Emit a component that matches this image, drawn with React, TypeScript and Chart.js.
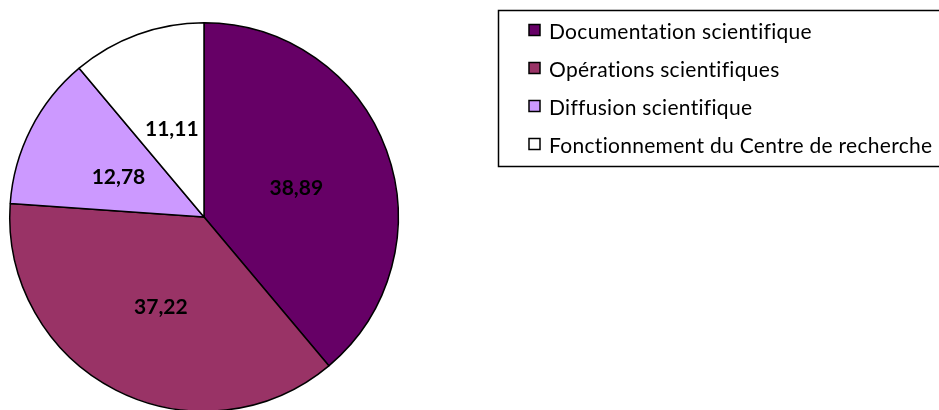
import React, { useEffect, useRef } from "react";
import { Chart, registerables } from "chart.js";

Chart.register(...registerables);

const categories = [
  "Documentation scientifique",
  "Opérations scientifiques",
  "Diffusion scientifique",
  "Fonctionnement du Centre de recherche",
];
const values = [38.89, 37.22, 12.78, 11.11];
const colors = ["#660066", "#993366", "#CC99FF", "#FFFFFF"];

const formatValue = (v: number) => v.toFixed(2).replace(".", ",");

const valueLabelPlugin = {
  id: "valueLabels",
  afterDatasetsDraw(chart: any) {
    const ctx = chart.ctx;
    const meta = chart.getDatasetMeta(0);
    const data = chart.data.datasets[0].data as number[];
    ctx.save();
    ctx.font = "bold 21px Lato";
    ctx.fillStyle = "#000";
    ctx.textAlign = "center";
    ctx.textBaseline = "middle";
    meta.data.forEach((arc: any, i: number) => {
      const p = arc.tooltipPosition();
      ctx.fillText(formatValue(data[i]), p.x + 1, p.y + 4);
    });
    ctx.restore();
  },
};

const boxLegendPlugin = {
  id: "boxLegend",
  afterDraw(chart: any) {
    const ctx = chart.ctx;
    const labels = chart.data.labels as string[];
    const bg = chart.data.datasets[0].backgroundColor as string[];
    ctx.save();
    ctx.strokeStyle = "#000";
    ctx.lineWidth = 1.5;
    ctx.strokeRect(498.5, 10.5, 470, 156);
    ctx.font = "21px Lato";
    if ("letterSpacing" in ctx) (ctx as any).letterSpacing = "0.3px";
    ctx.textBaseline = "middle";
    ctx.textAlign = "left";
    labels.forEach((label, i) => {
      const y = 30 + i * 38;
      ctx.fillStyle = bg[i];
      ctx.fillRect(529, y - 5.5, 11, 11);
      ctx.strokeStyle = "#000";
      ctx.lineWidth = 1.5;
      ctx.strokeRect(529, y - 5.5, 11, 11);
      ctx.fillStyle = "#000";
      ctx.fillText(label, 549, y + 2);
    });
    ctx.restore();
  },
};

export default function App() {
  const canvasRef = useRef<HTMLCanvasElement | null>(null);

  useEffect(() => {
    if (!canvasRef.current) return;
    const chart = new Chart(canvasRef.current, {
      type: "pie",
      data: {
        labels: categories,
        datasets: [
          {
            data: values,
            backgroundColor: colors,
            borderColor: "#000",
            borderWidth: 1.5,
          },
        ],
      },
      options: {
        responsive: false,
        animation: false,
        devicePixelRatio: 1,
        layout: {
          padding: { left: 9, top: 22, right: 540, bottom: 28 },
        },
        plugins: {
          legend: { display: false },
          tooltip: { enabled: false },
        },
      },
      plugins: [valueLabelPlugin, boxLegendPlugin],
    });
    return () => chart.destroy();
  }, []);

  return (
    <div
      style={{
        position: "fixed",
        left: 0,
        top: 0,
        width: 939,
        height: 410,
        overflow: "hidden",
        background: "#fff",
      }}
    >
      <canvas ref={canvasRef} width={939} height={440} style={{ display: "block" }} />
    </div>
  );
}
